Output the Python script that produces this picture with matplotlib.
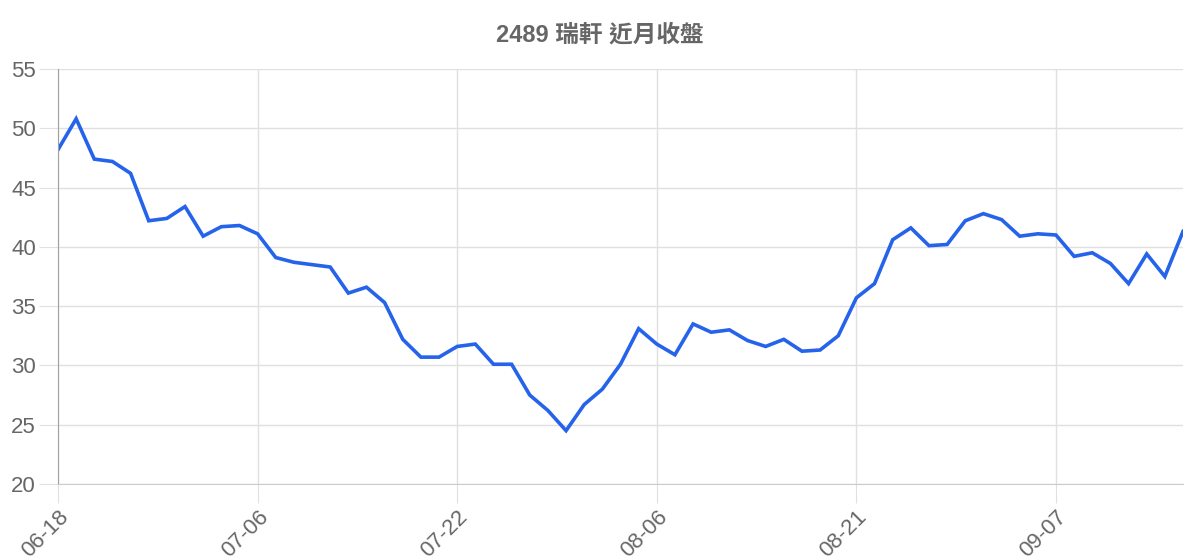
import numpy as np
import matplotlib
matplotlib.use("Agg")
import matplotlib.pyplot as plt

plt.rcParams['font.family'] = ['Liberation Sans', 'Noto Sans CJK TC', 'DejaVu Sans']

title = "2489 瑞軒 近月收盤"

# closing prices, one per trading day
close = [48.2, 50.8, 47.4, 47.2, 46.2, 42.2, 42.4, 43.4, 40.9, 41.7,
         41.8, 41.1, 39.1, 38.7, 38.5, 38.3, 36.1, 36.6, 35.3, 32.2,
         30.7, 30.7, 31.6, 31.8, 30.1, 30.1, 27.5, 26.2, 24.5, 26.7,
         28.0, 30.1, 33.1, 31.8, 30.9, 33.5, 32.8, 33.0, 32.1, 31.6,
         32.2, 31.2, 31.3, 32.5, 35.7, 36.9, 40.6, 41.6, 40.1, 40.2,
         42.2, 42.8, 42.3, 40.9, 41.1, 41.0, 39.2, 39.5, 38.6, 36.9,
         39.4, 37.5, 41.3]

tick_idx = [0, 11, 22, 33, 44, 55]
tick_labels = ["06-18", "07-06", "07-22", "08-06", "08-21", "09-07"]

fig = plt.figure(figsize=(12, 5.6), dpi=100)
ax = fig.add_axes([58/1200, 1-484/560, (1183-58)/1200, (484-69)/560])

x = np.arange(len(close))
ax.plot(x, close, color='#2563eb', linewidth=2.6, solid_joinstyle='miter')

ax.set_xlim(0, len(close)-1)
ax.set_ylim(20, 55)
ax.set_yticks(np.arange(20, 56, 5))
ax.set_xticks(tick_idx)
ax.set_xticklabels(tick_labels, rotation=45, ha='right', va='top',
                   rotation_mode='anchor')

ax.grid(True, color='#e0e0e0', linewidth=1)
ax.set_axisbelow(True)
ax.tick_params(axis='y', length=14, color='#e0e0e0', labelsize=16,
               labelcolor='#666666', pad=2)
ax.tick_params(axis='x', length=14, color='#e0e0e0', labelsize=16,
               labelcolor='#666666', pad=2)

for s in ['top', 'right']:
    ax.spines[s].set_visible(False)
ax.spines['left'].set_color('#a0a0a0')
ax.spines['bottom'].set_color('#cccccc')

fig.text(0.5, 1-35/560, title, ha='center', va='center', fontsize=17,
         fontweight='bold', color='#666666')

fig.savefig('out.png', dpi=100)
